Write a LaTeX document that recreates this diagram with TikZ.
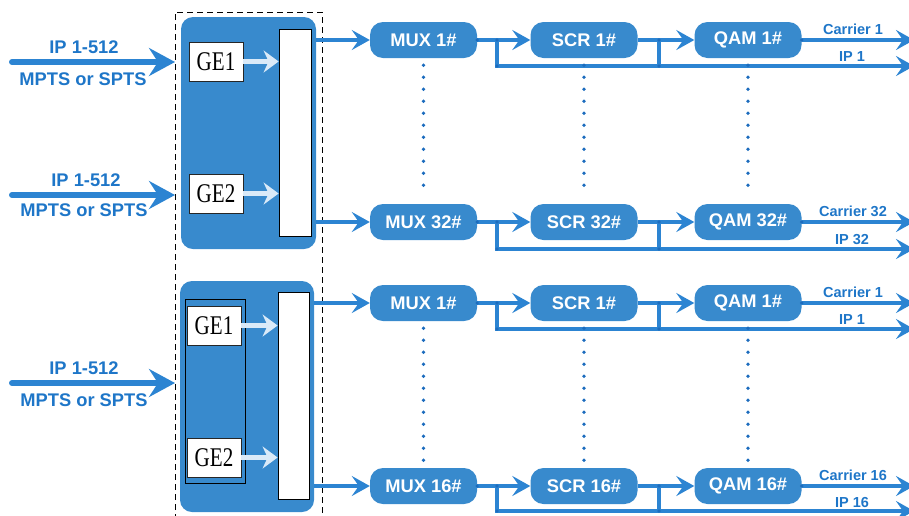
\documentclass[tikz,border=0pt]{standalone}
\usepackage{fontspec}
\usepackage{graphicx}
\setmainfont{Liberation Sans}
\newfontfamily\gefont{Liberation Serif}
\usetikzlibrary{arrows.meta}
\definecolor{boxblue}{RGB}{56,138,205}
\definecolor{lineblue}{RGB}{44,132,210}
\definecolor{txtblue}{RGB}{30,118,200}
\definecolor{dotblue}{RGB}{28,108,190}
\definecolor{lightarrow}{RGB}{218,234,248}
\begin{document}
\begin{tikzpicture}[x=1pt,y=-1pt,
  chainbox/.style={fill=boxblue, rounded corners=13pt, minimum width=107pt, minimum height=36pt, inner sep=0pt, text=white, font=\fontsize{18.3}{20}\selectfont\bfseries},
  bigbox/.style={fill=boxblue, rounded corners=12pt, inner sep=0pt},
  tallbox/.style={draw=black, fill=white, line width=0.8pt, inner sep=0pt, minimum width=32pt, minimum height=207pt},
  gebox/.style={draw=black!85, fill=white, line width=0.8pt, inner sep=0pt, minimum width=54pt, minimum height=39pt, font=\gefont\fontsize{27}{28}\selectfont},
  lightarr/.style={draw=lightarrow, line width=4.5pt, -{Stealth[length=15pt,width=22pt,inset=5pt]}},
  inarr/.style={draw=lineblue, line width=6pt, line cap=round, -{Stealth[length=26pt,width=28pt,inset=9pt]}},
  flow/.style={draw=lineblue, line width=3.2pt, -{Stealth[length=18pt,width=20pt,inset=7pt]}},
  plainline/.style={draw=lineblue, line width=3.2pt},
  dotline/.style={draw=dotblue, line width=3.8pt, line cap=round, dash pattern=on 0pt off 12pt, shorten <=7pt, shorten >=7pt},
  outlabel/.style={text=txtblue, font=\fontsize{14.5}{16}\selectfont\bfseries, inner sep=0pt},
  iplabel/.style={text=txtblue, font=\fontsize{18.3}{20}\selectfont\bfseries, inner sep=0pt},
  tslabel/.style={text=txtblue, font=\fontsize{18.3}{20}\selectfont\bfseries, inner sep=0pt},
  dashframe/.style={draw=black, line width=0.9pt, dash pattern=on 6pt off 4pt}
]
\clip (0,0) rectangle (909,515);

% dashed frame
\draw[dashframe] (175,520) -- (175,12) -- (322,12) -- (322,520);

% group A
\node[bigbox, minimum width=135pt, minimum height=232pt] (grpA) at (248.5,133) {};
\node[tallbox] (tallA) at (295,132.5) {};
\node[gebox] (geA1) at (216,61.5) {\scalebox{0.78}[1]{GE1}};
\node[gebox] (geA2) at (216,193.5) {\scalebox{0.78}[1]{GE2}};
\draw[lightarr] (geA1.east) -- (geA1.east -| tallA.west);
\draw[lightarr] (geA2.east) -- (geA2.east -| tallA.west);

% group B
\node[bigbox, minimum width=134pt, minimum height=231pt] (grpB) at (247,396.5) {};
\node[tallbox, minimum width=31pt] (tallB) at (293.5,395.5) {};
\node[draw=black, line width=0.8pt, minimum width=60pt, minimum height=184pt, inner sep=0pt] (innerB) at (215,391) {};
\node[gebox] (geB1) at (214,325.5) {\scalebox{0.78}[1]{GE1}};
\node[gebox] (geB2) at (214,457.5) {\scalebox{0.78}[1]{GE2}};
\draw[lightarr] (geB1.east) -- (geB1.east -| tallB.west);
\draw[lightarr] (geB2.east) -- (geB2.east -| tallB.west);

% inputs
\coordinate (in1s) at (12,62);  \coordinate (in1e) at (175,62);
\coordinate (in2s) at (12,195); \coordinate (in2e) at (175,195);
\coordinate (in3s) at (12,383); \coordinate (in3e) at (175,383);
\draw[inarr] (in1s) -- (in1e);
\draw[inarr] (in2s) -- (in2e);
\draw[inarr] (in3s) -- (in3e);
\node[iplabel] (l1a) at (84,47) {IP 1-512};
\node[tslabel] (l1b) at (83,79) {MPTS or SPTS};
\node[iplabel] (l2a) at (86,180) {IP 1-512};
\node[tslabel] (l2b) at (84,210) {MPTS or SPTS};
\node[iplabel] (l3a) at (84,368) {IP 1-512};
\node[tslabel] (l3b) at (84,400) {MPTS or SPTS};

% chains
\foreach \r/\y/\ip/\n/\g in {1/40/66/1/A, 2/222/249/32/A, 3/303/329/1/B, 4/486/511/16/B} {
  \node[chainbox] (mux\r) at (423.5,\y) {MUX \n\#};
  \node[chainbox] (scr\r) at (584,\y) {SCR \n\#};
  \node[chainbox] (qam\r) at (748,\y) {QAM \n\#};
  \coordinate (ja\r) at (497,\y);
  \coordinate (jb\r) at (659,\y);
  \coordinate (car\r) at (914,\y);
  \coordinate (ipe\r) at (914,\ip);
  \draw[flow] (grp\g.east |- mux\r.west) -- (mux\r.west);
  \draw[flow] (mux\r.east) -- (scr\r.west);
  \draw[flow] (scr\r.east) -- (qam\r.west);
  \draw[flow] (qam\r.east) -- (car\r);
  \draw[flow] (ja\r) |- (ipe\r);
  \draw[plainline] (jb\r) -- (jb\r |- ipe\r);
  \fill[dotblue] (ja\r) circle (1.8pt) (jb\r) circle (1.8pt)
     (ja\r |- ipe\r) circle (1.8pt) (jb\r |- ipe\r) circle (1.8pt)
     (mux\r.east) circle (1.8pt) (qam\r.east) circle (1.8pt);
  \node[outlabel] at (853,\y-11) {Carrier \n};
  \node[outlabel] at (852,\ip-9) {IP \n};
}

% dotted columns
\foreach \c in {mux,scr,qam} {
  \draw[dotline] (\c1.south) -- (\c2.north);
  \draw[dotline] (\c3.south) -- (\c4.north);
}
\end{tikzpicture}
\end{document}
